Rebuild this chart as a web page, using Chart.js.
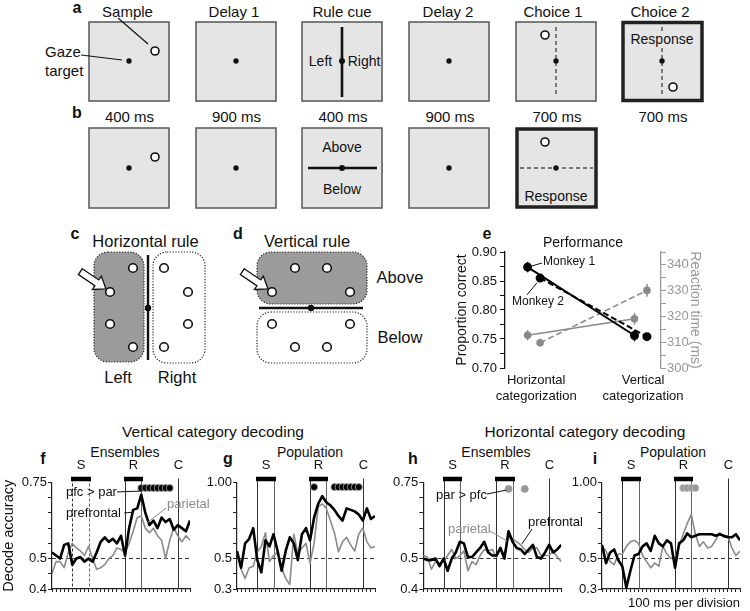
<!DOCTYPE html>
<html>
<head>
<meta charset="utf-8">
<title>Category decoding</title>
<script src="https://cdn.jsdelivr.net/npm/chart.js@4.4.1/dist/chart.umd.min.js"></script>
<style>
  body { margin: 0; background: #fff; }
  #fig { position: relative; width: 750px; height: 611px; overflow: hidden; }
  #fig canvas, #fig svg { position: absolute; }
  svg text { dominant-baseline: central; }
  svg .lab { font-weight: bold; font-size: 16px; }
</style>
</head>
<body>
<div id="fig">
<svg width="750" height="611" style="left:0;top:0" font-family="'Liberation Sans', Arial, sans-serif" text-anchor="middle" fill="#111">
  <!-- a / b : task schematic -->
  <text class="lab" x="77" y="7">a</text>
  <text class="lab" x="77" y="112">b</text>
  <g font-size="15">
    <text x="127.5" y="11">Sample</text>
    <text x="234" y="11">Delay 1</text>
    <text x="342" y="11">Rule cue</text>
    <text x="448" y="11">Delay 2</text>
    <text x="553" y="11">Choice 1</text>
    <text x="660" y="11">Choice 2</text>
    <text x="129.5" y="116">400 ms</text>
    <text x="236.5" y="116">900 ms</text>
    <text x="343" y="116">400 ms</text>
    <text x="450" y="116">900 ms</text>
    <text x="557" y="116">700 ms</text>
    <text x="663" y="116">700 ms</text>
    <text x="45" y="51" text-anchor="start">Gaze</text>
    <text x="45" y="70" text-anchor="start">target</text>
  </g>
  <g fill="#e5e5e5" stroke="#555" stroke-width="1.5">
    <rect x="89" y="22" width="80" height="79"/>
    <rect x="196" y="22" width="80" height="79"/>
    <rect x="302" y="22" width="80" height="79"/>
    <rect x="409" y="22" width="80" height="79"/>
    <rect x="516" y="22" width="80" height="79"/>
    <rect x="89" y="128" width="80" height="80"/>
    <rect x="196" y="128" width="80" height="80"/>
    <rect x="302" y="128" width="80" height="80"/>
    <rect x="409" y="128" width="80" height="80"/>
  </g>
  <g fill="#e5e5e5" stroke="#222" stroke-width="3.5">
    <rect x="623" y="22.5" width="79" height="78"/>
    <rect x="517" y="129" width="79" height="78"/>
  </g>
  <g stroke="#111" stroke-width="1.2">
    <line x1="118" y1="18" x2="148" y2="44"/>
    <line x1="81" y1="55" x2="122" y2="60"/>
  </g>
  <g stroke="#111" stroke-width="2.6">
    <line x1="342" y1="27" x2="342" y2="97"/>
    <line x1="308" y1="168" x2="377" y2="168"/>
  </g>
  <g stroke="#555" stroke-width="1.5" stroke-dasharray="4 3">
    <line x1="556" y1="27" x2="556" y2="97"/>
    <line x1="662" y1="27" x2="662" y2="31"/>
    <line x1="662" y1="48" x2="662" y2="97"/>
    <line x1="520" y1="168" x2="593" y2="168"/>
  </g>
  <g fill="#111">
    <circle cx="129" cy="61" r="2.7"/><circle cx="236" cy="61" r="2.7"/><circle cx="342" cy="61" r="3"/>
    <circle cx="449" cy="61" r="2.7"/><circle cx="556" cy="61" r="2.7"/><circle cx="662" cy="61" r="2.7"/>
    <circle cx="129" cy="168" r="2.7"/><circle cx="236" cy="168" r="2.7"/><circle cx="342" cy="168" r="3"/>
    <circle cx="449" cy="168" r="2.7"/><circle cx="556" cy="168" r="2.7"/>
  </g>
  <g fill="#fff" stroke="#111" stroke-width="1.6">
    <circle cx="155" cy="51" r="4"/><circle cx="545" cy="35" r="4"/><circle cx="673" cy="87" r="4"/>
    <circle cx="155" cy="157" r="4"/><circle cx="545" cy="142" r="4"/>
  </g>
  <g font-size="14">
    <text x="320.5" y="61">Left</text>
    <text x="364" y="61">Right</text>
    <text x="662" y="39">Response</text>
    <text x="342" y="147">Above</text>
    <text x="342" y="189">Below</text>
    <text x="556" y="196">Response</text>
  </g>

  <!-- c / d : rules -->
  <text class="lab" x="75" y="233">c</text>
  <text class="lab" x="238" y="233">d</text>
  <text class="lab" x="487" y="233">e</text>
  <g font-size="16.5">
    <text x="145.5" y="241">Horizontal rule</text>
    <text x="307" y="241">Vertical rule</text>
    <text x="118" y="377">Left</text>
    <text x="177" y="377">Right</text>
    <text x="400" y="277">Above</text>
    <text x="400" y="337">Below</text>
  </g>
  <g stroke="#222" stroke-width="1.2" stroke-dasharray="1.2 1.6">
    <rect x="94" y="252" width="50" height="110" rx="14" fill="#9b9b9b"/>
    <rect x="153" y="252" width="52" height="111" rx="14" fill="#fff"/>
    <rect x="257" y="252" width="110" height="52" rx="14" fill="#9b9b9b"/>
    <rect x="257" y="312" width="110" height="51" rx="14" fill="#fff"/>
  </g>
  <g stroke="#111" stroke-width="2.4">
    <line x1="148" y1="255" x2="148" y2="360"/>
    <line x1="259" y1="308" x2="363" y2="308"/>
  </g>
  <circle cx="148" cy="308" r="3.2"/>
  <circle cx="311" cy="308" r="3.2"/>
  <g fill="#fff" stroke="#111" stroke-width="1.6">
    <circle cx="133" cy="268" r="4.3"/><circle cx="110" cy="292" r="4.3"/><circle cx="110" cy="324" r="4.3"/><circle cx="133" cy="347" r="4.3"/>
    <circle cx="164" cy="268" r="4.3"/><circle cx="188" cy="292" r="4.3"/><circle cx="188" cy="324" r="4.3"/><circle cx="164" cy="347" r="4.3"/>
    <circle cx="295" cy="268" r="4.3"/><circle cx="327" cy="268" r="4.3"/><circle cx="272" cy="292" r="4.3"/><circle cx="350" cy="292" r="4.3"/>
    <circle cx="272" cy="324" r="4.3"/><circle cx="350" cy="324" r="4.3"/><circle cx="295" cy="347" r="4.3"/><circle cx="327" cy="347" r="4.3"/>
  </g>
  <g fill="#fff" stroke="#111" stroke-width="1.3">
    <polygon transform="translate(106,289) rotate(34)" points="-31,-3.5 -11,-3.5 -11,-8 0,0 -11,8 -11,3.5 -31,3.5"/>
    <polygon transform="translate(268,289) rotate(34)" points="-31,-3.5 -11,-3.5 -11,-8 0,0 -11,8 -11,3.5 -31,3.5"/>
  </g>

  <!-- f-i headings -->
  <g font-size="15.5">
    <text x="213" y="431">Vertical category decoding</text>
    <text x="585" y="431">Horizontal category decoding</text>
  </g>
  <g font-size="14">
    <text x="125" y="452">Ensembles</text>
    <text x="310" y="452">Population</text>
    <text x="496" y="452">Ensembles</text>
    <text x="673" y="452">Population</text>
  </g>
  <text class="lab" x="43" y="458">f</text>
  <text class="lab" x="228" y="458">g</text>
  <text class="lab" x="413" y="458">h</text>
  <text class="lab" x="595" y="458">i</text>
</svg>
<canvas id="perf" width="310" height="186" style="left:440px;top:225px"></canvas>
<canvas id="f" width="235" height="171" style="left:0px;top:440px"></canvas>
<canvas id="g" width="230" height="171" style="left:190px;top:440px"></canvas>
<canvas id="h" width="225" height="171" style="left:375px;top:440px"></canvas>
<canvas id="i" width="195" height="171" style="left:555px;top:440px"></canvas>
</div>

<script>
// ---- panel e: performance ----
const perfCats = ['Horizontal categorization', 'Vertical categorization'];
const perfCatPos = [0.2, 0.885];
const monkeyShift = [-0.055, 0.025];
const perfMonkey1 = [0.874, 0.756];
const perfMonkey2 = [0.855, 0.754];
const perfErr1 = [0.009, 0.010];
const perfErr2 = [0.004, 0.004];
const rtMonkey1 = [312.7, 319.1];
const rtMonkey2 = [309.8, 330.1];
const rtErr1 = [2.0, 2.3];
const rtErr2 = [1.5, 2.5];
const perfTicks = [0.70, 0.75, 0.80, 0.85, 0.90];
const rtTicks = [300, 310, 320, 330, 340];

// ---- panels f-i: decoding time courses (ms from sample onset) ----
const timeBins = [-500, -400, -300, -200, -100, 0, 100, 200, 300, 400, 500, 600, 700, 800, 900, 1000, 1100,
  1200, 1300, 1400, 1500, 1600, 1700, 1800, 1900, 2000, 2100, 2200, 2300, 2400, 2500, 2600, 2700, 2800, 2900];

const fPfc = [0.52, 0.51, 0.50, 0.545, 0.55, 0.48, 0.50, 0.505, 0.49, 0.50, 0.49, 0.52, 0.555, 0.57, 0.555, 0.565, 0.55,
  0.575, 0.51, 0.60, 0.66, 0.665, 0.71, 0.65, 0.61, 0.625, 0.60, 0.635, 0.62, 0.63, 0.595, 0.61, 0.60, 0.59, 0.625];
const fPar = [0.45, 0.49, 0.49, 0.47, 0.52, 0.55, 0.535, 0.525, 0.51, 0.54, 0.50, 0.465, 0.47, 0.48, 0.50, 0.51, 0.535,
  0.53, 0.52, 0.55, 0.59, 0.635, 0.64, 0.60, 0.585, 0.60, 0.575, 0.56, 0.50, 0.56, 0.60, 0.575, 0.555, 0.575, 0.56];
const gPfc = [0.55, 0.44, 0.60, 0.63, 0.70, 0.49, 0.41, 0.62, 0.58, 0.66, 0.55, 0.42, 0.55, 0.64, 0.60, 0.49, 0.66,
  0.70, 0.62, 0.77, 0.86, 0.91, 0.87, 0.85, 0.82, 0.78, 0.75, 0.83, 0.82, 0.81, 0.79, 0.75, 0.83, 0.76, 0.78];
const gPar = [0.54, 0.43, 0.37, 0.44, 0.45, 0.545, 0.58, 0.67, 0.48, 0.52, 0.54, 0.44, 0.37, 0.33, 0.66, 0.53, 0.57,
  0.60, 0.47, 0.60, 0.84, 0.86, 0.83, 0.75, 0.67, 0.545, 0.61, 0.64, 0.59, 0.55, 0.66, 0.70, 0.61, 0.57, 0.58];
const hPfc = [0.50, 0.495, 0.495, 0.50, 0.475, 0.50, 0.46, 0.50, 0.52, 0.555, 0.55, 0.505, 0.505, 0.52, 0.535, 0.555, 0.52,
  0.51, 0.51, 0.535, 0.50, 0.59, 0.555, 0.535, 0.53, 0.515, 0.53, 0.545, 0.505, 0.50, 0.52, 0.545, 0.52, 0.53, 0.545];
const hPar = [0.51, 0.505, 0.465, 0.49, 0.485, 0.49, 0.51, 0.53, 0.50, 0.51, 0.525, 0.46, 0.49, 0.48, 0.51, 0.53, 0.525,
  0.53, 0.505, 0.53, 0.515, 0.57, 0.565, 0.555, 0.545, 0.53, 0.52, 0.535, 0.535, 0.51, 0.51, 0.51, 0.525, 0.505, 0.49];
const iPfc = [0.59, 0.47, 0.54, 0.56, 0.49, 0.45, 0.31, 0.42, 0.52, 0.53, 0.58, 0.60, 0.55, 0.65, 0.60, 0.58, 0.62,
  0.60, 0.44, 0.60, 0.62, 0.665, 0.64, 0.65, 0.66, 0.66, 0.66, 0.66, 0.65, 0.66, 0.65, 0.64, 0.64, 0.66, 0.62];
const iPar = [0.58, 0.55, 0.48, 0.46, 0.53, 0.53, 0.58, 0.61, 0.62, 0.60, 0.52, 0.48, 0.44, 0.47, 0.45, 0.58, 0.53,
  0.50, 0.51, 0.58, 0.66, 0.73, 0.79, 0.66, 0.58, 0.61, 0.57, 0.58, 0.62, 0.67, 0.64, 0.65, 0.57, 0.52, 0.55];

// bins where one area beats the other, and the height the markers sit at
const fSig = [1700, 1800, 1900, 2000, 2100, 2200, 2300, 2400];
const gSig = [1400, 1900, 2000, 2100, 2200, 2300, 2400, 2500];
const hSig = [1600, 2000];
const iSig = [1500, 1600, 1700, 1800];
const sigLevel = { f: 0.732, g: 0.97, h: 0.729, i: 0.964 };

const chance = 0.5;
const ensRange = [0.4, 0.75];
const ensTicks = [0.4, 0.5, 0.75];
const ensTickText = ['0.4', '0.5', '0.75'];
const popRange = [0.3, 1.0];
const popTicks = [0.3, 0.5, 1.0];
const popTickText = ['0.3', '0.5', '1.00'];

const phaseNames = ['S', 'R', 'C'];
const phaseOn = [0, 1300, 2600];
const phaseOff = [400, 1700, null];

const FONT = "'Liberation Sans', Arial, sans-serif";
const GREY = '#8a8a8a';
Chart.defaults.font.family = FONT;
Chart.defaults.color = '#111';

function stepTicks(lo, hi, step) {
  const out = [];
  for (let v = lo; v <= hi + step / 2; v += step) out.push({ value: +v.toFixed(4) });
  return out;
}

function labelFor(v, majors, texts) {
  const k = majors.findIndex(m => Math.abs(m - v) < 1e-6);
  return k < 0 ? '' : texts[k];
}

function line(ctx, x0, y0, x1, y1) {
  ctx.beginPath();
  ctx.moveTo(x0, y0);
  ctx.lineTo(x1, y1);
  ctx.stroke();
}

// S / R / C markers above each decoding panel
function phasePlugin(dashSample) {
  return {
    id: 'phases',
    beforeDatasetsDraw(chart) {
      const { ctx, chartArea: area, scales: { x } } = chart;
      const crisp = v => Math.round(v) + 0.5;
      ctx.save();
      ctx.font = '13px ' + FONT;
      ctx.textAlign = 'center';
      ctx.textBaseline = 'middle';
      ctx.fillStyle = '#111';
      phaseNames.forEach((name, k) => {
        const x0 = crisp(x.getPixelForValue(phaseOn[k]));
        const x1 = phaseOff[k] == null ? null : crisp(x.getPixelForValue(phaseOff[k]));
        ctx.lineWidth = 1;
        ctx.strokeStyle = '#333';
        ctx.setLineDash(k === 0 && dashSample ? [3, 2] : []);
        line(ctx, x0, area.top - 4, x0, area.bottom);
        if (x1 != null) {
          ctx.strokeStyle = '#666';
          line(ctx, x1, area.top - 4, x1, area.bottom);
          ctx.setLineDash([]);
          ctx.lineWidth = 4.5;
          ctx.strokeStyle = '#000';
          line(ctx, x0 - 1.5, area.top - 3.5, x1 + 1.5, area.top - 3.5);
        }
        ctx.setLineDash([]);
        ctx.fillText(name, x1 == null ? x0 : (x0 + x1) / 2, area.top - 17);
      });
      ctx.restore();
    }
  };
}

// text labels with leader lines, placed in data units
function notesPlugin(items, size) {
  return {
    id: 'notes',
    afterDatasetsDraw(chart) {
      const { ctx, scales } = chart;
      ctx.save();
      ctx.font = size + 'px ' + FONT;
      ctx.textBaseline = 'middle';
      ctx.textAlign = 'left';
      items.forEach(n => {
        const x = scales.x;
        const y = scales[n.axis || 'y'];
        ctx.fillStyle = n.color;
        ctx.strokeStyle = n.color;
        ctx.lineWidth = 1;
        ctx.fillText(n.text, x.getPixelForValue(n.x), y.getPixelForValue(n.y));
        if (n.line) {
          line(ctx, x.getPixelForValue(n.line[0]), y.getPixelForValue(n.line[1]),
            x.getPixelForValue(n.line[2]), y.getPixelForValue(n.line[3]));
        }
      });
      ctx.restore();
    }
  };
}

const errorBars = {
  id: 'errorBars',
  beforeDatasetsDraw(chart) {
    const ctx = chart.ctx;
    chart.data.datasets.forEach((ds, i) => {
      if (!ds.err) return;
      const meta = chart.getDatasetMeta(i);
      ctx.save();
      ctx.strokeStyle = ds.borderColor;
      ctx.lineWidth = 1.5;
      meta.data.forEach((pt, k) => {
        const v = ds.data[k].y;
        line(ctx, pt.x, meta.yScale.getPixelForValue(v - ds.err[k]), pt.x, meta.yScale.getPixelForValue(v + ds.err[k]));
      });
      ctx.restore();
    });
  }
};

const pts = (vals, shift) => vals.map((v, k) => ({ x: perfCatPos[k] + shift, y: v }));

new Chart(document.getElementById('perf'), {
  type: 'line',
  data: {
    datasets: [
      { data: pts(perfMonkey1, monkeyShift[0]), err: perfErr1, yAxisID: 'y', borderColor: '#000', backgroundColor: '#000', borderWidth: 2, pointRadius: 3.5 },
      { data: pts(perfMonkey2, monkeyShift[1]), err: perfErr2, yAxisID: 'y', borderColor: '#000', backgroundColor: '#000', borderWidth: 2, borderDash: [6, 3], pointRadius: 3.5 },
      { data: pts(rtMonkey1, monkeyShift[0]), err: rtErr1, yAxisID: 'y2', borderColor: GREY, backgroundColor: GREY, borderWidth: 1.6, pointRadius: 3 },
      { data: pts(rtMonkey2, monkeyShift[1]), err: rtErr2, yAxisID: 'y2', borderColor: GREY, backgroundColor: GREY, borderWidth: 1.6, borderDash: [6, 3], pointRadius: 3 }
    ]
  },
  options: {
    responsive: false,
    animation: false,
    events: [],
    layout: { padding: { top: 10.2, left: 10, right: 43, bottom: 0 } },
    plugins: {
      legend: { display: false },
      tooltip: { enabled: false },
      title: { display: true, fullSize: false, text: 'Performance', color: '#111', font: { size: 14, weight: 'normal' }, padding: { top: 0, bottom: 0 } }
    },
    scales: {
      x: {
        type: 'linear', min: 0, max: 1,
        border: { display: false },
        grid: { display: false, drawTicks: false },
        afterBuildTicks: s => { s.ticks = perfCatPos.map(v => ({ value: v })); },
        ticks: { autoSkip: false, maxRotation: 0, padding: 5, color: '#111', font: { size: 13 }, callback: (v, i) => perfCats[i].split(' ') },
        afterFit: s => { s.height = 43; }
      },
      y: {
        position: 'left', min: 0.70, max: 0.90,
        border: { color: '#111', width: 1.3 },
        grid: { drawOnChartArea: false, color: '#111', tickLength: 5 },
        afterBuildTicks: s => { s.ticks = stepTicks(0.70, 0.90, 0.025); },
        ticks: { autoSkip: false, padding: 3, color: '#111', font: { size: 13 }, callback: v => labelFor(v, perfTicks, perfTicks.map(t => t.toFixed(2))) },
        title: { display: true, text: 'Proportion correct', color: '#111', font: { size: 14 }, padding: { top: 4, bottom: 0 } },
        afterFit: s => { s.width = 55; }
      },
      y2: {
        position: 'right', min: 300, max: 345,
        border: { color: '#999', width: 1.3 },
        grid: { drawOnChartArea: false, color: '#999', tickLength: 5 },
        afterBuildTicks: s => { s.ticks = stepTicks(300, 345, 5); },
        ticks: { autoSkip: false, padding: 1, color: '#999', font: { size: 13 }, callback: v => labelFor(v, rtTicks, rtTicks.map(String)) },
        title: { display: true, text: 'Reaction time (ms)', color: '#999', font: { size: 14 }, padding: { top: 4, bottom: 0 } },
        afterFit: s => { s.width = 46; }
      }
    }
  },
  plugins: [errorBars, notesPlugin([
    { text: 'Monkey 1', x: 0.244, y: 0.883, color: '#111', line: [0.173, 0.876, 0.237, 0.881] },
    { text: 'Monkey 2', x: 0.045, y: 0.814, color: '#111', line: [0.141, 0.826, 0.205, 0.847] }
  ], 12)]
});

function decodeChart(cfg) {
  const [yMin, yMax] = cfg.range;
  const series = vals => timeBins.map((t, k) => ({ x: t, y: vals[k] }));
  return new Chart(document.getElementById(cfg.id), {
    type: 'line',
    data: {
      datasets: [
        { data: cfg.sig.map(t => ({ x: t, y: cfg.sigLevel })), showLine: false, pointRadius: 3.5,
          pointBackgroundColor: cfg.sigColor, pointBorderColor: cfg.sigEdge, pointBorderWidth: 0.8, clip: false },
        { data: series(cfg.pfc), borderColor: '#000', borderWidth: 2.6, pointRadius: 0, borderJoinStyle: 'round' },
        { data: series(cfg.par), borderColor: GREY, borderWidth: 1.6, pointRadius: 0, borderJoinStyle: 'round' },
        { data: [{ x: timeBins[0], y: chance }, { x: timeBins[timeBins.length - 1], y: chance }],
          borderColor: '#333', borderWidth: 1.1, borderDash: [4, 3], pointRadius: 0 }
      ]
    },
    options: {
      responsive: false,
      animation: false,
      events: [],
      layout: { padding: { top: 42.5, right: cfg.padRight, bottom: 0, left: 0 } },
      plugins: { legend: { display: false }, tooltip: { enabled: false } },
      scales: {
        x: {
          type: 'linear', min: timeBins[0], max: timeBins[timeBins.length - 1],
          border: { color: '#222', width: 1.2 },
          grid: { drawOnChartArea: false, color: '#222', tickLength: 3 },
          afterBuildTicks: s => { s.ticks = timeBins.map(v => ({ value: v })); },
          ticks: { autoSkip: false, maxRotation: 0, padding: 0, callback: () => '' },
          title: cfg.xTitle
            ? { display: true, text: cfg.xTitle, align: 'end', color: '#111', font: { size: 13 }, padding: { top: 0, bottom: 0 } }
            : { display: false },
          afterFit: s => { s.height = 22; }
        },
        y: {
          min: yMin, max: yMax,
          border: { color: '#222', width: 1.2 },
          grid: { drawOnChartArea: false, color: '#222', tickLength: 4 },
          afterBuildTicks: s => { s.ticks = stepTicks(yMin, yMax, cfg.step); },
          ticks: { autoSkip: false, padding: 1, color: '#111', font: { size: 13 }, callback: v => labelFor(v, cfg.majors, cfg.majorText) },
          title: cfg.yTitle
            ? { display: true, text: cfg.yTitle, color: '#111', font: { size: 14.5 }, padding: { top: 0, bottom: 0 } }
            : { display: false },
          afterFit: s => { s.width = cfg.axisWidth; }
        }
      }
    },
    plugins: [phasePlugin(cfg.dashSample), notesPlugin(cfg.notes || [], 13)]
  });
}

decodeChart({
  id: 'f', pfc: fPfc, par: fPar, sig: fSig, sigLevel: sigLevel.f, sigColor: '#000', sigEdge: '#aaa',
  range: ensRange, step: 0.05, majors: ensTicks, majorText: ensTickText,
  axisWidth: 52, padRight: 45, dashSample: true, yTitle: 'Decode accuracy',
  notes: [
    { text: 'pfc > par', x: -155, y: 0.719, color: '#111', line: [1101, 0.719, 1717, 0.722] },
    { text: 'prefrontal', x: -155, y: 0.650, color: '#111', line: [1280, 0.650, 1480, 0.652] },
    { text: 'parietal', x: 2333, y: 0.679, color: GREY, line: [2309, 0.666, 1841, 0.617] }
  ]
});

decodeChart({
  id: 'g', pfc: gPfc, par: gPar, sig: gSig, sigLevel: sigLevel.g, sigColor: '#000', sigEdge: '#aaa',
  range: popRange, step: 0.1, majors: popTicks, majorText: popTickText,
  axisWidth: 47, padRight: 45
});

decodeChart({
  id: 'h', pfc: hPfc, par: hPar, sig: hSig, sigLevel: sigLevel.h, sigColor: '#999', sigEdge: '#999',
  range: ensRange, step: 0.05, majors: ensTicks, majorText: ensTickText,
  axisWidth: 48.3, padRight: 38.7,
  notes: [
    { text: 'par > pfc', x: -187, y: 0.709, color: '#111', line: [1069, 0.712, 1538, 0.725] },
    { text: 'parietal', x: 108, y: 0.597, color: GREY, line: [1143, 0.590, 1562, 0.558] },
    { text: 'prefrontal', x: 2079, y: 0.620, color: '#111', line: [2177, 0.597, 1931, 0.548] }
  ]
});

decodeChart({
  id: 'i', pfc: iPfc, par: iPar, sig: iSig, sigLevel: sigLevel.i, sigColor: '#999', sigEdge: '#bbb',
  range: popRange, step: 0.1, majors: popTicks, majorText: popTickText,
  axisWidth: 47, padRight: 10, xTitle: '100 ms per division'
});
</script>
</body>
</html>
